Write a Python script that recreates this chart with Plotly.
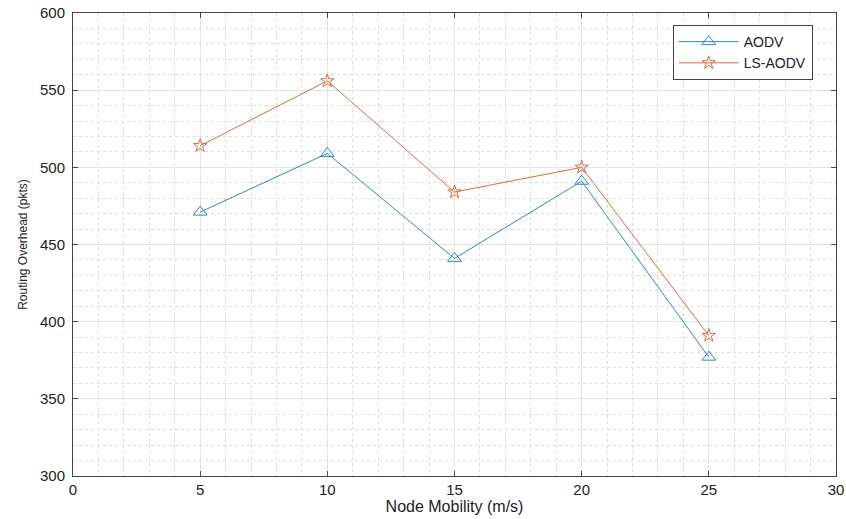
import plotly.graph_objects as go

node_mobility = [5, 10, 15, 20, 25]
aodv = [471, 509, 441, 491, 377]
ls_aodv = [514, 556, 484, 500, 391]
x_ticks = [0, 5, 10, 15, 20, 25, 30]
y_ticks = [300, 350, 400, 450, 500, 550, 600]

FONT = "Liberation Sans, Arial, Helvetica, sans-serif"

fig = go.Figure()
fig.add_trace(go.Scatter(
    x=node_mobility, y=aodv, name="AODV", mode="lines+markers",
    line=dict(color="#2f87c3", width=1),
    marker=dict(symbol="triangle-up-open", size=12, color="#2f87c3", line=dict(width=1)),
))
fig.add_trace(go.Scatter(
    x=node_mobility, y=ls_aodv, name="LS-AODV", mode="lines+markers",
    line=dict(color="#dc6a3c", width=1),
    marker=dict(symbol="star-open", size=10, color="#dc6a3c", line=dict(width=1)),
))

axis_common = dict(
    showline=True, linecolor="#444444", linewidth=1, mirror="ticks",
    ticks="inside", ticklen=5, tickcolor="#444444",
    showgrid=True, gridcolor="#e2e2e2", gridwidth=1,
    zeroline=False, automargin=False,
    tickfont=dict(family=FONT, size=15, color="#222222"),
)

fig.update_xaxes(
    range=[0, 30], tickvals=x_ticks,
    minor=dict(dtick=1, showgrid=True, gridcolor="#dcdcdc", griddash="dot", gridwidth=1, ticks=""),
    title=dict(text="Node Mobility (m/s)", font=dict(family=FONT, size=16, color="#222222"), standoff=2),
    **axis_common,
)
fig.update_yaxes(
    range=[300, 600], tickvals=y_ticks, ticklabelstandoff=4,
    minor=dict(dtick=10, showgrid=True, gridcolor="#dcdcdc", griddash="dot", gridwidth=1, ticks=""),
    title=dict(text="Routing Overhead (pkts)", font=dict(family=FONT, size=12, color="#222222"), standoff=9),
    **axis_common,
)

fig.update_layout(
    width=846, height=519,
    margin=dict(l=73, r=10, t=13, b=43),
    plot_bgcolor="white", paper_bgcolor="white",
    font=dict(family=FONT, color="#222222"),
    legend=dict(
        x=0.786, y=0.974, xanchor="left", yanchor="top",
        bgcolor="white", bordercolor="#444444", borderwidth=1,
        font=dict(size=14, family=FONT),
        tracegroupgap=0, itemwidth=60,
    ),
    showlegend=True,
)

# remove the browser's default body margin so the figure fills the window exactly
fig.write_html(
    "out.html",
    config={"displayModeBar": False},
    post_script="document.body.style.margin='0';document.body.style.padding='0';document.body.style.overflow='hidden';",
)
